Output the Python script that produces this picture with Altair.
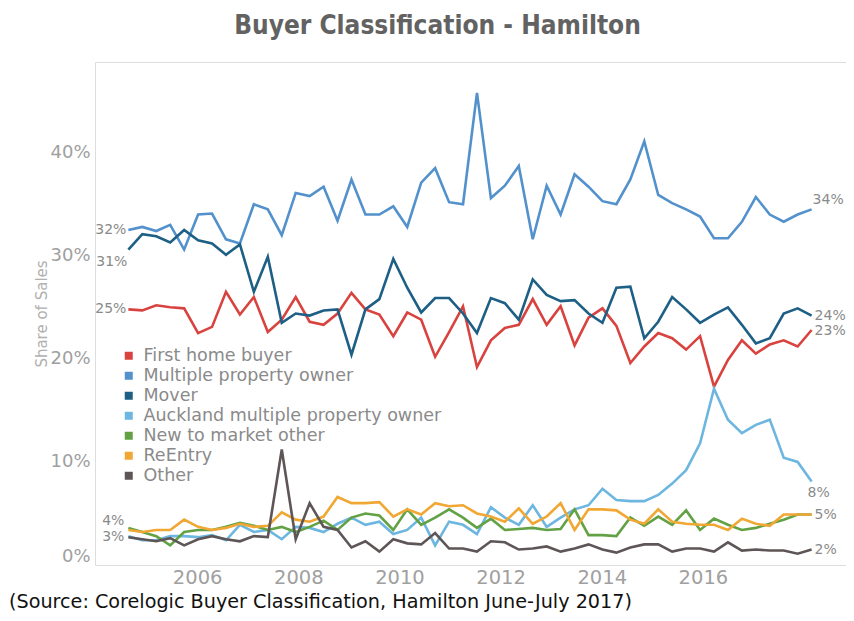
import altair as alt
import pandas as pd
import numpy as np

TITLE = "Buyer Classification - Hamilton"
SOURCE = "(Source: Corelogic Buyer Classification, Hamilton June-July 2017)"
Y_TITLE = "Share of Sales"

SERIES = ["First home buyer", "Multiple property owner", "Mover",
          "Auckland multiple property owner", "New to market other",
          "ReEntry", "Other"]
COLORS = ["#d8433f", "#5291cc", "#1d5f85", "#6cb6e0", "#63a244", "#f0a733", "#5e5556"]

X_TICKS = [2006, 2008, 2010, 2012, 2014, 2016]
Y_TICKS = [0, 10, 20, 30, 40]

FIRST_PERIOD = 2004.64
LAST_PERIOD = 2018.15
N_PERIODS = 50

first_home_buyer = [24.8, 24.7, 25.2, 25.0, 24.9, 22.5, 23.1, 26.5, 24.3, 26.0,
                    22.6, 23.8, 26.0, 23.6, 23.3, 24.4, 26.4, 24.8, 24.3, 22.2,
                    24.5, 23.8, 20.2, 22.6, 25.1, 19.2, 21.8, 23.0, 23.3, 25.8,
                    23.3, 25.1, 21.3, 24.0, 24.9, 23.2, 19.6, 21.2, 22.5, 22.0,
                    20.9, 22.2, 17.3, 19.9, 21.8, 20.5, 21.4, 21.8, 21.2, 22.8]
multiple_property_owner = [32.5, 32.8, 32.4, 33.0, 30.6, 34.0, 34.1, 31.6, 31.2, 35.0,
                           34.5, 32.0, 36.1, 35.8, 36.7, 33.4, 37.4, 34.0, 34.0, 34.8,
                           32.8, 37.1, 38.5, 35.2, 35.0, 45.8, 35.6, 36.8, 38.7, 31.6,
                           36.8, 34.0, 37.9, 36.7, 35.3, 35.0, 37.4, 41.1, 35.9, 35.1,
                           34.5, 33.8, 31.7, 31.7, 33.3, 35.7, 34.0, 33.3, 34.0, 34.5]
mover = [30.6, 32.1, 31.9, 31.3, 32.5, 31.5, 31.2, 30.1, 31.1, 26.5,
         29.9, 23.5, 24.4, 24.2, 24.7, 24.8, 20.4, 24.8, 25.8, 29.7,
         26.9, 24.5, 25.9, 25.9, 24.4, 22.5, 25.9, 25.4, 23.8, 27.7,
         26.2, 25.6, 25.7, 24.4, 23.5, 26.9, 27.0, 22.0, 23.6, 26.0,
         24.8, 23.5, 24.3, 25.0, 23.3, 21.5, 22.0, 24.4, 24.9, 24.2]
auckland_mpo = [2.8, 2.4, 2.4, 2.8, 2.8, 2.7, 2.9, 2.4, 3.9, 3.2,
                3.4, 2.5, 3.7, 3.6, 3.2, 4.0, 4.6, 3.9, 4.2, 3.0,
                3.4, 4.6, 1.9, 4.2, 3.9, 3.0, 5.6, 4.6, 3.9, 5.8,
                3.7, 4.6, 5.4, 5.8, 7.4, 6.3, 6.2, 6.2, 6.8, 7.9,
                9.2, 11.8, 17.1, 14.1, 12.8, 13.6, 14.1, 10.4, 10.0, 8.1]
new_to_market_other = [3.6, 3.2, 2.8, 1.9, 3.2, 3.4, 3.4, 3.7, 4.1, 3.8,
                       3.4, 3.7, 3.2, 3.7, 4.3, 3.4, 4.6, 5.0, 4.8, 3.4,
                       5.4, 3.9, 4.6, 5.4, 4.6, 3.6, 4.5, 3.4, 3.5, 3.6,
                       3.4, 3.5, 5.4, 2.9, 2.9, 2.8, 4.6, 3.8, 4.7, 3.9,
                       5.3, 3.4, 4.5, 3.9, 3.4, 3.6, 4.0, 4.4, 4.9, 4.9]
reentry = [3.4, 3.2, 3.4, 3.4, 4.4, 3.7, 3.4, 3.6, 4.0, 3.7,
           3.8, 5.1, 4.4, 4.2, 4.7, 6.6, 6.0, 6.0, 6.1, 4.7,
           5.4, 4.9, 6.0, 5.7, 5.8, 5.0, 4.7, 4.2, 5.5, 4.0,
           4.7, 6.0, 3.4, 5.4, 5.4, 5.3, 4.4, 4.0, 5.4, 4.2,
           4.0, 3.9, 3.9, 3.4, 4.5, 4.0, 3.8, 4.9, 4.9, 4.9]
other = [2.7, 2.5, 2.3, 2.6, 1.9, 2.5, 2.8, 2.5, 2.3, 2.8,
         2.7, 11.2, 2.5, 6.0, 3.7, 3.4, 1.7, 2.3, 1.3, 2.5,
         2.1, 2.0, 3.1, 1.6, 1.6, 1.3, 2.3, 2.2, 1.5, 1.6,
         1.8, 1.3, 1.6, 2.0, 1.5, 1.2, 1.7, 2.0, 2.0, 1.3,
         1.6, 1.6, 1.3, 2.2, 1.4, 1.5, 1.4, 1.4, 1.1, 1.5]

VALUES = [first_home_buyer, multiple_property_owner, mover, auckland_mpo,
          new_to_market_other, reentry, other]

periods = np.linspace(FIRST_PERIOD, LAST_PERIOD, N_PERIODS)

rows = []
for name, vals in zip(SERIES, VALUES):
    for p, v in zip(periods, vals):
        rows.append({"period": p, "share": v, "series": name})
df = pd.DataFrame(rows)

FONT = "DejaVu Sans"
GREY = "#8a8a8a"
LIGHT = "#a0a0a0"

x_scale = alt.Scale(domain=[2003.98, 2018.83], nice=False, zero=False)
y_scale = alt.Scale(domain=[0, 48.8], nice=False, zero=False)

lines = alt.Chart(df).mark_line(strokeWidth=2.6).encode(
    x=alt.X("period:Q", scale=x_scale,
            axis=alt.Axis(values=X_TICKS, format="d", title=None, grid=False,
                          ticks=False, domain=False, labelFontSize=19.5,
                          labelColor=LIGHT, labelFont=FONT, labelPadding=3,
                          labelFlush=False)),
    y=alt.Y("share:Q", scale=y_scale,
            axis=alt.Axis(values=Y_TICKS, labelExpr="datum.value + '%'",
                          title=Y_TITLE, titleFontSize=15, titleColor="#b0b0b0",
                          titleFont=FONT, titleFontWeight="normal", titlePadding=0,
                          grid=False, ticks=False, domain=False, labelFontSize=18,
                          labelColor=LIGHT, labelFont=FONT, labelPadding=5,
                          labelFlush=True)),
    color=alt.Color("series:N", scale=alt.Scale(domain=SERIES, range=COLORS),
                    legend=alt.Legend(title=None, orient="none", legendX=25, legendY=285,
                                      direction="vertical", symbolType="square",
                                      symbolSize=16, symbolStrokeWidth=4,
                                      labelFontSize=17.5, labelColor=GREY, labelFont=FONT,
                                      labelLimit=0, rowPadding=-1, labelOffset=6,
                                      padding=0)),
    detail="series:N",
)

# start / end annotations: (series, text, which end)
ANNOTATIONS = [
    ("Multiple property owner", "32%", 0),
    ("Mover", "31%", 0),
    ("First home buyer", "25%", 0),
    ("New to market other", "4%", 0),
    ("Auckland multiple property owner", "3%", 0),
    ("Multiple property owner", "34%", -1),
    ("Mover", "24%", -1),
    ("First home buyer", "23%", -1),
    ("Auckland multiple property owner", "8%", -1),
    ("New to market other", "5%", -1),
    ("Other", "2%", -1),
]
OFFSETS = [(-2, 0), (-1, 12), (-2, 0), (-4, -7), (-4, 1),
           (1, -9), (3, 0), (3, 1), (-4, 11), (3, 1), (3, 0)]

layers = [lines]
for (name, text, idx), (dx, dy) in zip(ANNOTATIONS, OFFSETS):
    vals = VALUES[SERIES.index(name)]
    d = pd.DataFrame({"period": [periods[idx]], "share": [vals[idx]], "label": [text]})
    layers.append(
        alt.Chart(d).mark_text(align="right" if idx == 0 else "left", baseline="middle",
                               dx=dx, dy=dy, fontSize=14, font=FONT, color=GREY)
        .encode(x=alt.X("period:Q", scale=x_scale),
                y=alt.Y("share:Q", scale=y_scale),
                text="label:N")
    )

src = alt.Chart(pd.DataFrame({"t": [SOURCE]})).mark_text(
    align="left", baseline="alphabetic", fontSize=19.2, font="DejaVu Sans",
    color="#111111"
).encode(x=alt.value(-86), y=alt.value(546), text="t:N")
layers.append(src)

chart = alt.layer(*layers).properties(
    width=751, height=503,
    title=alt.TitleParams(TITLE, fontSize=26, font="DejaVu Sans Condensed, Open Sans",
                          fontWeight="bold", color="#626262", anchor="middle",
                          dx=-33, offset=23),
    autosize=alt.AutoSizeParams(type="none"),
    padding={"left": 87, "top": 54, "right": 0, "bottom": 48},
).configure_view(stroke="#e6e6e6", strokeWidth=1).configure(background="white")

chart.save("out.html", embed_options={"renderer": "svg", "actions": False})
